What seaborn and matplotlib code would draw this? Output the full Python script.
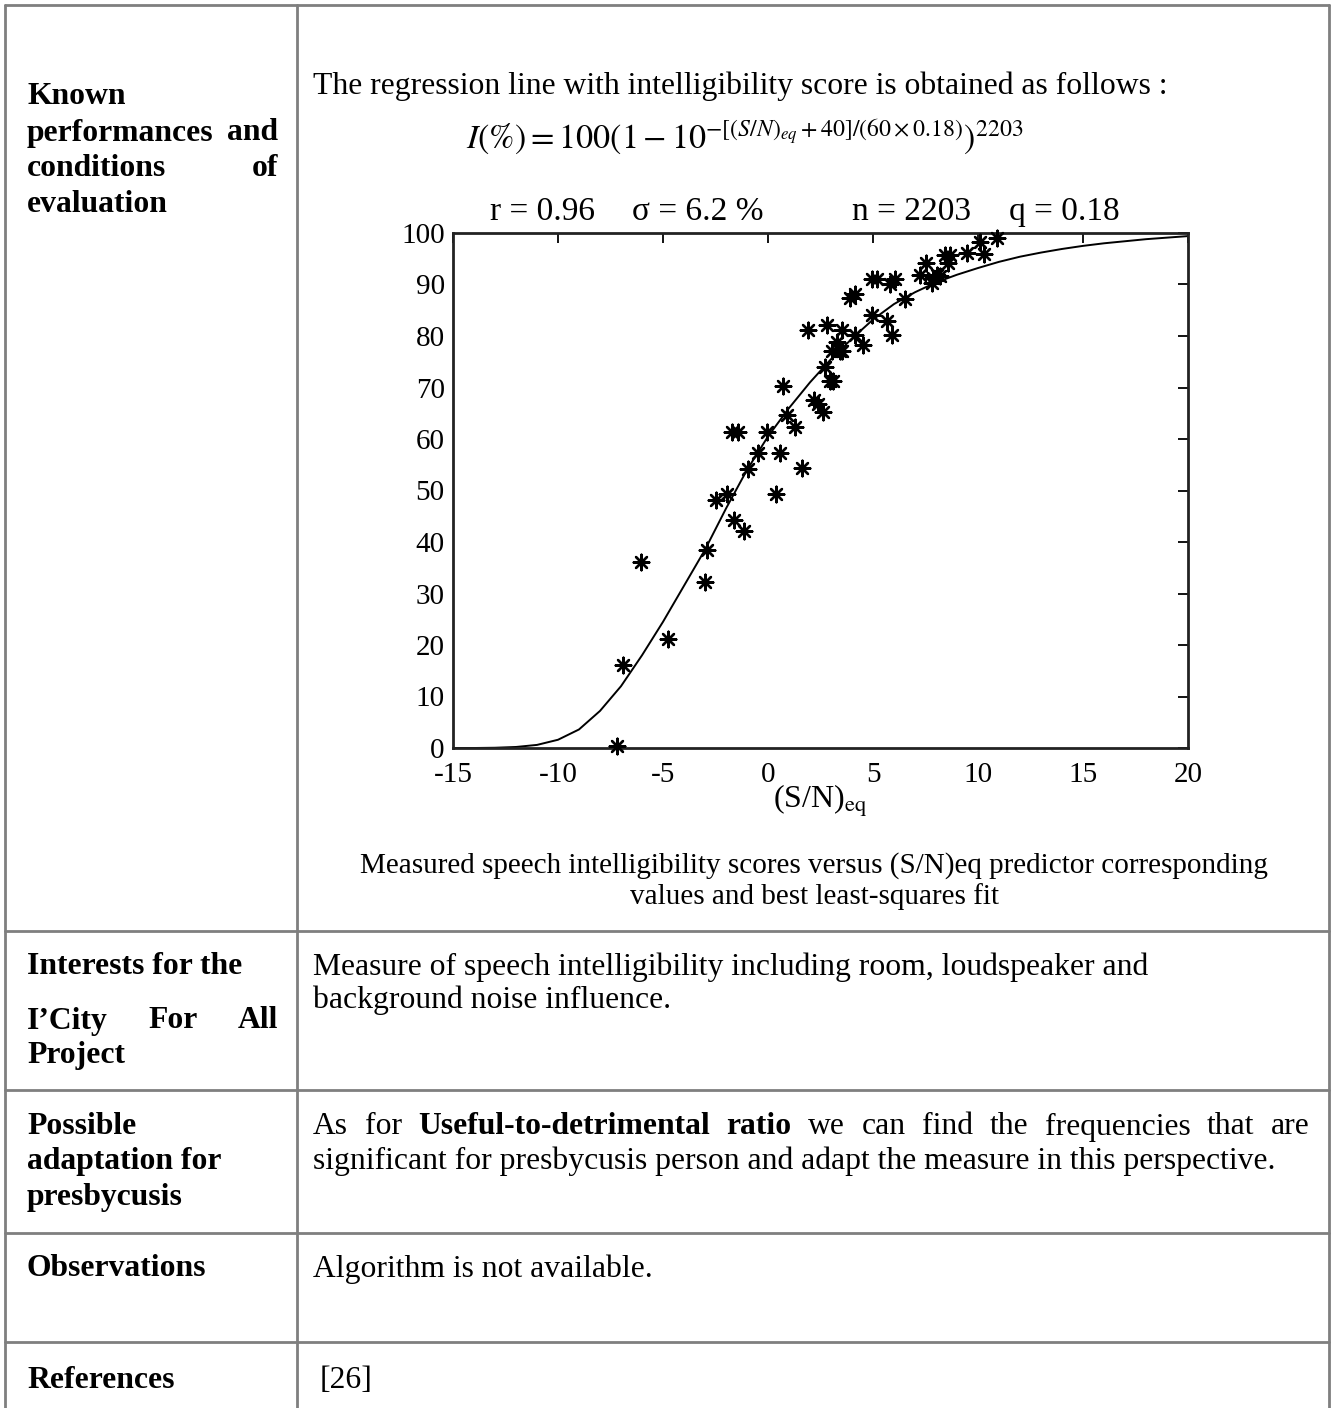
import matplotlib
matplotlib.use("Agg")
import matplotlib.pyplot as plt
from matplotlib.lines import Line2D
import seaborn as sns

W, H = 1332, 1408

# ---------------- data ----------------
snr_points = [-7.2, -6.9, -6.05, -4.75, -3.0, -2.92, -2.5, -1.97, -1.6, -1.14,
              -0.94, 0.4, -0.46, 0.57, 1.6, -0.03, -1.7, -1.45, 0.89, 1.29,
              0.7, 2.2, 2.4, 2.63, 2.95, 3.1, 2.71, 1.92, 2.79, 3.5,
              3.27, 3.03, 3.43, 4.14, 3.5, 4.54, 3.9, 4.14, 4.94, 5.65,
              5.89, 4.94, 5.18, 5.81, 6.05, 6.52, 7.24, 7.52, 7.8, 7.86,
              8.03, 8.19, 8.43, 8.67, 8.59, 9.46, 10.1, 10.29, 10.89]
score_points = [0.3, 16.1, 36.2, 21.1, 32.3, 38.4, 48.2, 49.4, 44.3, 42.2,
                54.1, 49.4, 57.2, 57.2, 54.3, 61.4, 61.4, 61.4, 64.7, 62.4,
                70.3, 67.5, 66.8, 65.3, 71.3, 71.3, 74.0, 81.2, 82.1, 81.2,
                78.9, 77.0, 77.0, 80.2, 77.0, 78.3, 87.3, 88.1, 84.1, 82.9,
                80.1, 91.1, 91.1, 90.0, 91.1, 87.2, 91.8, 94.1, 90.2, 91.3,
                91.8, 91.7, 95.7, 95.7, 94.1, 96.2, 98.3, 96.0, 99.1]
fit_snr = [-15, -14, -13, -12, -11, -10, -9, -8, -7, -6, -5, -4, -3, -2, -1, 0,
           1, 2, 3, 4, 5, 6, 7, 8, 9, 10, 11, 12, 13, 14, 15, 16, 17, 18, 19, 20]
fit_score = [0.0, 0.0, 0.05, 0.2, 0.6, 1.6, 3.6, 7.2, 12.0, 18.0, 24.5, 31.5,
             38.5, 46.5, 54.0, 60.5, 66.0, 71.0, 75.5, 79.5, 83.2, 86.2, 88.5,
             90.4, 91.9, 93.2, 94.4, 95.4, 96.2, 96.9, 97.5, 98.0, 98.4, 98.8,
             99.1, 99.4]
x_ticks = [-15, -10, -5, 0, 5, 10, 15, 20]
y_ticks = [0, 10, 20, 30, 40, 50, 60, 70, 80, 90, 100]

# ---------------- style ----------------
sns.set_theme(style="white")
plt.rcParams['font.family'] = ['Liberation Serif', 'DejaVu Serif']
plt.rcParams['mathtext.fontset'] = 'stix'

fig = plt.figure(figsize=(W / 100, H / 100), dpi=100)
fig.patch.set_facecolor('white')
renderer = fig.canvas.get_renderer()


def fxy(px, py):
    return px / W, 1 - py / H


def place(px, py, s, size=22.8, weight='normal', ha='left', **kw):
    x, y = fxy(px, py)
    return fig.text(x, y, s, fontsize=size, fontweight=weight, ha=ha,
                    va='center', color='black', **kw)


def justify(parts, x0, x1, py, size=22.8):
    texts = [place(x0, py, w, size, wt) for w, wt in parts]
    widths = [t.get_window_extent(renderer).width for t in texts]
    gap = (x1 - x0 - sum(widths)) / (len(texts) - 1)
    x = x0
    for t, w in zip(texts, widths):
        t.set_x(x / W)
        x += w + gap


# ---------------- table grid ----------------
gray = '#7f7f7f'
lw = 2.0
for py in [5, 931, 1090, 1233, 1342]:
    fig.add_artist(Line2D([5 / W, 1329 / W], [1 - py / H, 1 - py / H],
                          color=gray, linewidth=lw))
for px in [5, 297, 1329]:
    fig.add_artist(Line2D([px / W, px / W], [1 - 5 / H, 0],
                          color=gray, linewidth=lw))

# ---------------- left column ----------------
LS = 22.8
place(27, 97, "Known", LS, 'bold')
justify([("performances", 'bold'), ("and", 'bold')], 27, 278, 133, LS)
justify([("conditions", 'bold'), ("of", 'bold')], 27, 278, 168, LS)
place(27, 204, "evaluation", LS, 'bold')

place(27, 967, "Interests for the", LS, 'bold')
justify([("I\u2019City", 'bold'), ("For", 'bold'), ("All", 'bold')], 27, 278, 1021, LS)
place(27, 1056, "Project", LS, 'bold')

place(27, 1127, "Possible", LS, 'bold')
place(27, 1162, "adaptation for", LS, 'bold')
place(27, 1197, "presbycusis", LS, 'bold')

place(27, 1269, "Observations", LS, 'bold')
place(27, 1380, "References", LS, 'bold')

# ---------------- right column ----------------
BS = 22.8
place(313, 86, "The regression line with intelligibility score is obtained as follows :", BS)
place(745, 137, r"$I(\%) = 100(1 - 10^{-[(S/N)_{eq}+40]/(60\times0.18)})^{2203}$",
      24.5, ha='center')

CS = 21
place(814, 866, "Measured speech intelligibility scores versus (S/N)eq predictor corresponding",
      CS, ha='center')
place(814, 897, "values and best least-squares fit", CS, ha='center')

place(313, 967, "Measure of speech intelligibility including room, loudspeaker and", BS)
place(313, 1000, "background noise influence.", BS)

row3 = [("As", 'normal'), ("for", 'normal'), ("Useful-to-detrimental", 'bold'),
        ("ratio", 'bold'), ("we", 'normal'), ("can", 'normal'), ("find", 'normal'),
        ("the", 'normal'), ("frequencies", 'normal'), ("that", 'normal'), ("are", 'normal')]
justify(row3, 313, 1310, 1127, BS)
place(313, 1161, "significant for presbycusis person and adapt the measure in this perspective.", BS)

place(313, 1269, "Algorithm is not available.", BS)
place(320, 1380, "[26]", BS)

# ---------------- chart ----------------
ax_l, ax_r, ax_t, ax_b = 453, 1188, 233, 748
ax = fig.add_axes([ax_l / W, 1 - ax_b / H, (ax_r - ax_l) / W, (ax_b - ax_t) / H])
ax.set_facecolor('white')

sns.lineplot(x=fit_snr, y=fit_score, ax=ax, color='black', linewidth=1.4)
sns.scatterplot(x=snr_points, y=score_points, ax=ax, marker=(8, 2, 0), s=125,
                color='black', linewidth=1.7, zorder=3, clip_on=False)

ax.set_xlim(-15, 20)
ax.set_ylim(0, 100)
ax.set_xticks(x_ticks)
ax.set_yticks(y_ticks)
ax.set_xticklabels([str(v) for v in x_ticks])
ax.set_yticklabels([str(v) for v in y_ticks])
ax.tick_params(direction='in', top=True, right=True, length=7, width=1.3,
               labelsize=21, colors='black')
ax.tick_params(axis='x', pad=10)
ax.tick_params(axis='y', pad=6)
for sp in ax.spines.values():
    sp.set_visible(True)
    sp.set_linewidth(2.0)
    sp.set_color('#222222')
ax.set_xlabel(r"(S/N)$_{\mathrm{eq}}$", fontsize=23, labelpad=-4, color='black')
ax.set_ylabel("")

place(490, 212, "r = 0.96", 24)
place(632, 212, "\u03c3 = 6.2 %", 24)
place(852, 212, "n = 2203", 24)
place(1120, 212, "q = 0.18", 24, ha='right')

fig.savefig("out.png", dpi=100, facecolor='white')
